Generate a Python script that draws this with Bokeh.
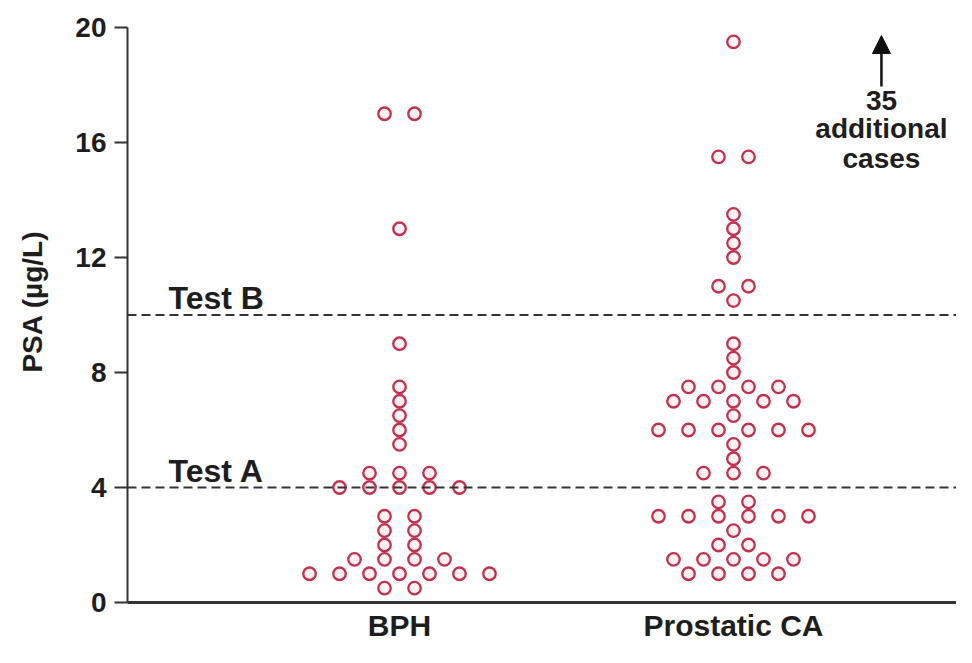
from bokeh.plotting import figure
from bokeh.models import Span, Arrow, NormalHead, FixedTicker, Range1d, ColumnDataSource, Label
from bokeh.embed import file_html
from bokeh.resources import INLINE

# ---- data ----
categories = ["BPH", "Prostatic CA"]
cat_pos = [1, 2]

bph_psa = [17, 17, 13, 9, 7.5, 7, 6.5, 6, 5.5,
           4.5, 4.5, 4.5, 4, 4, 4, 4, 4,
           3, 3, 2.5, 2.5, 2, 2, 1.5, 1.5, 1.5, 1.5,
           1, 1, 1, 1, 1, 1, 1, 0.5, 0.5]
bph_slot = [-0.5, 0.5, 0, 0, 0, 0, 0, 0, 0,
            -1, 0, 1, -2, -1, 0, 1, 2,
            -0.5, 0.5, -0.5, 0.5, -0.5, 0.5, -1.5, -0.5, 0.5, 1.5,
            -3, -2, -1, 0, 1, 2, 3, -0.5, 0.5]

ca_psa = [19.5, 15.5, 15.5, 13.5, 13, 12.5, 12, 11, 11, 10.5,
          9, 8.5, 8, 7.5, 7.5, 7.5, 7.5, 7, 7, 7, 7, 7, 6.5,
          6, 6, 6, 6, 6, 6, 5.5, 5, 4.5, 4.5, 4.5, 3.5, 3.5,
          3, 3, 3, 3, 3, 3, 2.5, 2, 2, 1.5, 1.5, 1.5, 1.5, 1.5,
          1, 1, 1, 1]
ca_slot = [0, -0.5, 0.5, 0, 0, 0, 0, -0.5, 0.5, 0,
           0, 0, 0, -1.5, -0.5, 0.5, 1.5, -2, -1, 0, 1, 2, 0,
           -2.5, -1.5, -0.5, 0.5, 1.5, 2.5, 0, 0, -1, 0, 1, -0.5, 0.5,
           -2.5, -1.5, -0.5, 0.5, 1.5, 2.5, 0, -0.5, 0.5, -2, -1, 0, 1, 2,
           -1.5, -0.5, 0.5, 1.5]

y_ticks = [0, 4, 8, 12, 16, 20]
cutoffs = {"Test A": 4, "Test B": 10}
extra_cases = 35

# ---- styling ----
SLOT_W = 0.0898
FONT = "Liberation Sans"
TXT = "#1e1e1e"

xs, ys = [], []
for pos, vals, slots in ((cat_pos[0], bph_psa, bph_slot), (cat_pos[1], ca_psa, ca_slot)):
    for v, s in zip(vals, slots):
        xs.append(pos + s * SLOT_W)
        ys.append(v)
src = ColumnDataSource(dict(x=xs, y=ys))

p = figure(width=956, height=647, output_backend="svg", toolbar_location=None,
           x_range=Range1d(0.1856, 2.6677), y_range=Range1d(0, 20.939),
           min_border_left=127, min_border_right=0, min_border_top=0, min_border_bottom=45)
p.outline_line_color = None
p.grid.visible = False
p.background_fill_color = "white"

# cut-off lines
for name, val in cutoffs.items():
    p.add_layout(Span(location=val, dimension="width", line_color="#333333",
                      line_width=2, line_dash="9 5"))
    p.add_layout(Label(x=0.3084, y=val + 0.59, text=name, text_font=FONT,
                       text_font_style="bold", text_font_size="32px", text_color=TXT,
                       text_baseline="alphabetic"))

p.scatter("x", "y", source=src, marker="circle", size=12.5, line_width=2.3,
          line_color="#c2304c", fill_color="#fff0f4")

# axes
yax = p.yaxis[0]
yax.ticker = FixedTicker(ticks=y_ticks)
yax.bounds = (0, 20)
yax.axis_label = "PSA (µg/L)"
yax.axis_label_text_font = FONT
yax.axis_label_text_font_size = "28px"
yax.axis_label_text_font_style = "bold"
yax.axis_label_text_color = TXT
yax.axis_label_standoff = 24
yax.major_label_text_font = FONT
yax.major_label_text_font_style = "bold"
yax.major_label_text_font_size = "28px"
yax.major_label_text_color = TXT
yax.major_label_standoff = 8
yax.major_tick_out = 13
yax.major_tick_in = 0
yax.minor_tick_line_color = None
yax.axis_line_width = 2
yax.axis_line_color = "#333333"
yax.major_tick_line_width = 2
yax.major_tick_line_color = "#333333"

xax = p.xaxis[0]
xax.ticker = FixedTicker(ticks=cat_pos)
xax.major_label_overrides = {cat_pos[i]: categories[i] for i in range(2)}
xax.major_label_text_font = FONT
xax.major_label_text_font_style = "bold"
xax.major_label_text_font_size = "30px"
xax.major_label_text_color = TXT
xax.major_label_standoff = 0
xax.major_tick_line_color = None
xax.minor_tick_line_color = None
xax.axis_line_width = 3
xax.axis_line_color = "#333333"

# annotation: additional cases off-scale
p.add_layout(Arrow(end=NormalHead(size=18, fill_color="#111111", line_color="#111111"),
                   x_start=2.443, y_start=17.95, x_end=2.443, y_end=19.72,
                   line_width=2.5, line_color="#111111"))
for txt, yy in ((str(extra_cases), 17.47), ("additional", 16.47), ("cases", 15.46)):
    p.add_layout(Label(x=2.443, y=yy, text=txt, text_font=FONT, text_font_style="bold",
                       text_font_size="28px", text_color=TXT, text_align="center",
                       text_baseline="alphabetic"))

open("out.html", "w").write(file_html(p, INLINE))
